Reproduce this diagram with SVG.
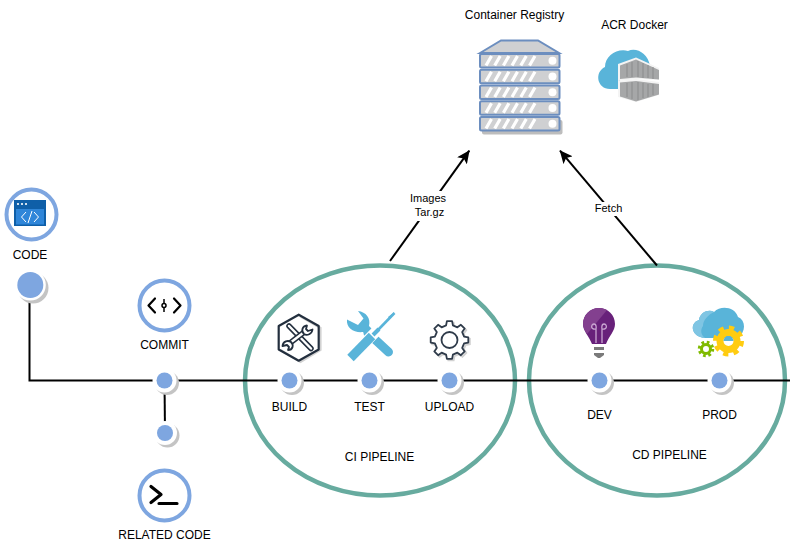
<svg xmlns="http://www.w3.org/2000/svg" width="792" height="554" viewBox="0 0 792 554">
<defs>
<style>
text{font-family:"Liberation Sans",Arial,sans-serif;font-size:12px;fill:#000;text-anchor:middle}
.small{font-size:11px}
.wire{fill:none;stroke:#000;stroke-width:2}
.arrow{fill:none;stroke:#000;stroke-width:2;marker-end:url(#ah)}
.pipe{fill:#fff;stroke:#67ab9f;stroke-width:4.500}
.ring{fill:#fff;stroke:#7ea6e0;stroke-width:4}
.lbg{fill:#fff}
.srv{fill:#cfd0d2;stroke:#6c8ebf;stroke-width:2}
.st{stroke:#fff;stroke-width:3.200;fill:none}
.knob{fill:#fff}
.ic{fill:none;stroke:#000;stroke-width:2.200;stroke-linecap:round;stroke-linejoin:round}
.dk{fill:none;stroke:#232f3e;stroke-width:2.200;stroke-linejoin:round}
.bl{fill:#59b4d9}
</style>
<marker id="ah" viewBox="0 0 13 12" refX="12.500" refY="6" markerWidth="13" markerHeight="12" markerUnits="userSpaceOnUse" orient="auto"><path d="M0 0L13 6L0 12L3 6Z" fill="#000"/></marker>
<g id="dotbase"><circle cx="2.500" cy="2.500" r="12" fill="#c4c4c4"/><circle r="12" fill="#fff"/><circle r="8" fill="#7ea6e0"/></g>
<polygon id="gearshape" points="14.600,-3.400 18.800,-2.600 18.800,2.600 14.600,3.400 12.700,7.900 15.200,11.400 11.400,15.200 7.900,12.700 3.400,14.600 2.600,18.800 -2.600,18.800 -3.400,14.600 -7.900,12.700 -11.400,15.200 -15.200,11.400 -12.700,7.900 -14.600,3.400 -18.800,2.600 -18.800,-2.600 -14.600,-3.400 -12.700,-7.900 -15.200,-11.400 -11.400,-15.200 -7.900,-12.700 -3.400,-14.600 -2.600,-18.800 2.600,-18.800 3.400,-14.600 7.900,-12.700 11.400,-15.200 15.200,-11.400 12.700,-7.900"/>
<g id="srvrow">
<rect class="srv" x="480" y="54" width="79.500" height="13.500" rx="1.500"/>
<path class="st" d="M486 65.500L491.500 56M494.700 65.500L500.200 56M503.400 65.500L508.900 56M512 65.500L517.500 56M520.800 65.500L526.300 56M529.500 65.500L535 56"/>
<circle class="knob" cx="552.500" cy="60.700" r="4"/>
</g>
</defs>
<rect width="792" height="554" fill="#fff"/>

<g id="pipelines">
<ellipse id="ci-pipeline" class="pipe" cx="380" cy="380.500" rx="135" ry="115"/>
<ellipse id="cd-pipeline" class="pipe" cx="657" cy="380.500" rx="128" ry="115"/>
</g>

<g id="connectors">
<path class="wire" d="M29.500 295V380.500H790"/>
<path class="wire" d="M164.500 381L165 433"/>
<path class="arrow" d="M390 261L469.300 150.700"/>
<path class="arrow" d="M657 265.500L560 150.700"/>
<rect class="lbg" x="408" y="191" width="40" height="30"/>
<rect class="lbg" x="594" y="202" width="29" height="14"/>
<text class="small" x="428" y="202">Images</text>
<text class="small" x="429.500" y="216">Tar.gz</text>
<text class="small" x="608.500" y="212">Fetch</text>
</g>

<g id="code">
<circle class="ring" cx="31.500" cy="214.500" r="25"/>
<rect x="14" y="200" width="32" height="26" fill="#0f5fa8"/>
<rect x="16" y="209" width="28" height="15.500" fill="#2f86d9"/>
<circle cx="18" cy="204" r="1.100" fill="#fff"/><circle cx="22" cy="204" r="1.100" fill="#fff"/><circle cx="26" cy="204" r="1.100" fill="#fff"/>
<path d="M26 212L21.500 217L26 222M34 212L38.500 217L34 222M32 211L28 223" fill="none" stroke="#fff" stroke-width="1"/>
<text x="30" y="259">CODE</text>
<circle cx="33" cy="288" r="15.500" fill="#c4c4c4"/>
<circle cx="30.300" cy="285" r="15.500" fill="#fff"/>
<circle cx="30.300" cy="285" r="13" fill="#7ea6e0"/>
</g>

<g id="commit">
<circle class="ring" cx="164.500" cy="305.500" r="25"/>
<path class="ic" d="M155 298.500L148.500 305.500L155 312.500M174 298.500L180.500 305.500L174 312.500"/>
<path d="M164 299V312" stroke="#000" stroke-width="1.500"/>
<circle cx="164" cy="305.500" r="2" fill="#fff" stroke="#000" stroke-width="1.500"/>
<text x="164.500" y="349">COMMIT</text>
<use href="#dotbase" transform="translate(164.500,380.500)"/>
</g>

<g id="related-code">
<use href="#dotbase" transform="translate(165,433)"/>
<circle class="ring" cx="164.500" cy="495.500" r="25"/>
<path d="M151 486.500L161 494.500L151 502.500M159 503.500H177" fill="none" stroke="#000" stroke-width="3.200" stroke-linecap="round" stroke-linejoin="round"/>
<text x="164.500" y="539">RELATED CODE</text>
</g>

<g id="build">
<path d="M300.500 316.500L320.500 328V350L300.500 362L280.500 350" fill="none" stroke="#d2d2d2" stroke-width="2.200"/>
<path class="dk" d="M298.700 314.700L318.700 326V349.500L298.700 360.700L278.700 349.500V326Z"/>
<path d="M289 326L311 348.500" stroke="#232f3e" stroke-width="5.500" stroke-linecap="round"/>
<path d="M289 326L311 348.500" stroke="#fff" stroke-width="2.500" stroke-linecap="round"/>
<path d="M305 331.500L290 343" stroke="#232f3e" stroke-width="5.500"/>
<path d="M305 331.500L290 343" stroke="#fff" stroke-width="2.500"/>
<path d="M307 325.500C302 326 301 331 304 334C307 336 312 334 312.500 329.500L308 331L306 329Z" fill="#fff" stroke="#232f3e" stroke-width="1.800" stroke-linejoin="round"/>
<path d="M288 350C293 350 294 345 291 342C288 340 283 341 282.500 346L287 345L289 347Z" fill="#fff" stroke="#232f3e" stroke-width="1.800" stroke-linejoin="round"/>
<use href="#dotbase" transform="translate(289.500,380.500)"/>
<text x="289.500" y="411">BUILD</text>
</g>

<g id="test">
<path class="bl" d="M347 319.500C346 328 354 333 363 332L371 340L377 334L369 326C371 318 366 312 358 311L363.500 318.500L358 325Z"/>
<path d="M368 333L388.500 352" stroke="#59b4d9" stroke-width="9" stroke-linecap="round"/>
<path d="M394.500 313L377 331" stroke="#59b4d9" stroke-width="2.600"/>
<path d="M394.500 312L390 319L388 317Z" class="bl"/>
<path d="M376.500 331L350 358" stroke="#fff" stroke-width="11"/>
<path d="M372 336L350.500 358" stroke="#59b4d9" stroke-width="9"/>
<path d="M379 329L373 335" stroke="#59b4d9" stroke-width="4"/>
<use href="#dotbase" transform="translate(369.500,380.500)"/>
<text x="369.500" y="411">TEST</text>
</g>

<g id="upload">
<use href="#gearshape" transform="translate(451,341.500)" fill="none" stroke="#d2d2d2" stroke-width="2"/>
<use href="#gearshape" transform="translate(449.500,340)" fill="#fff" stroke="#2f3b4a" stroke-width="1.800" stroke-linejoin="round"/>
<circle cx="449.500" cy="340" r="8" fill="none" stroke="#2f3b4a" stroke-width="1.800"/>
<use href="#dotbase" transform="translate(449.500,380.500)"/>
<text x="449.500" y="411">UPLOAD</text>
</g>

<g id="ci-label"><text x="379.500" y="461">CI PIPELINE</text></g>

<g id="dev">
<path d="M599 308C608 308 615 315 615 324C615 331 609 336 606 344H592C589 336 583 331 583 324C583 315 590 308 599 308Z" fill="#68217a"/>
<path d="M599 308C590 308 583 315 583 324C583 328 585 331 587 334L607 310C605 309 602 308 599 308Z" fill="#83408f"/>
<path d="M596 343V329M602 343V329M596 329C590 330 591 324 594 324C597 324 596 329 596 329M602 329C608 330 607 324 604 324C601 324 602 329 602 329" fill="none" stroke="#c9a5d1" stroke-width="1.300"/>
<rect x="594" y="347" width="10" height="3" fill="#7a7a7a"/>
<path d="M594 353H604V355L600 358H598L594 355Z" fill="#7a7a7a"/>
<use href="#dotbase" transform="translate(599.500,380.500)"/>
<text x="599.500" y="419">DEV</text>
</g>

<g id="prod">
<path d="M705 338C691 337 689 323 699 320C700 312 709 309 714 312C721 305 735 307 738 317C746 320 746 332 738 338Z" fill="#59b4d9"/>
<path d="M705 338C691 337 689 323 699 320C700 312 709 309 714 312C708 315 703 320 703 326C700 330 701 335 705 338Z" fill="#7fc5e3"/>
<circle cx="728.500" cy="341" r="12.500" fill="none" stroke="#ffcc11" stroke-width="6" stroke-dasharray="4.900 4.920"/>
<circle cx="728.500" cy="341" r="8.500" fill="none" stroke="#ffcc11" stroke-width="7"/>
<path d="M723.500 341A5 5 0 0 1 733.500 341Z" fill="#59b4d9"/>
<circle cx="706" cy="349" r="6.500" fill="none" stroke="#7fba00" stroke-width="3.500" stroke-dasharray="2.550 2.550"/>
<circle cx="706" cy="349" r="4.500" fill="none" stroke="#7fba00" stroke-width="3"/>
<use href="#dotbase" transform="translate(719.500,380.500)"/>
<text x="719.500" y="419">PROD</text>
</g>

<g id="cd-label"><text x="669.500" y="459">CD PIPELINE</text></g>

<g id="registry">
<rect x="482" y="120" width="80.500" height="14.500" rx="2" fill="#bdbdbd"/>
<path class="srv" d="M480 53L501 40.500H538L559 53Z"/>
<use href="#srvrow"/>
<use href="#srvrow" y="15.800"/>
<use href="#srvrow" y="31.500"/>
<use href="#srvrow" y="47.300"/>
<use href="#srvrow" y="63"/>
<text x="514.500" y="19">Container Registry</text>
</g>

<g id="acr-docker">
<path class="bl" d="M620 89H610C597 89 594 72 605 67C605 56 617 48 628 51C636 47 648 53 650 66L650 72L620 72Z"/>
<path d="M618 64L636 57.500L659 68V80L636 79L618 81Z" fill="#f4f4f4"/>
<path d="M620 65.500L636 59.500L659 70V79.500L636 77.500L620 79Z" fill="#a6a7a8"/>
<path d="M618 81L636 79L659 82V95L636 102L618 97Z" fill="#f4f4f4"/>
<path d="M620 82.500L636 81L659 84V94.500L636 101.500L620 96.500Z" fill="#a6a7a8"/>
<path d="M627 64V77M632 62V77M638 61V77M643 63V78M648 65V78M653 67V79M627 83V97M632 82V99M638 82V100M643 83V98M648 84V97M653 84V95" stroke="#8a8b8c" stroke-width="1" fill="none"/>
<text x="634.500" y="29">ACR Docker</text>
</g>
</svg>
